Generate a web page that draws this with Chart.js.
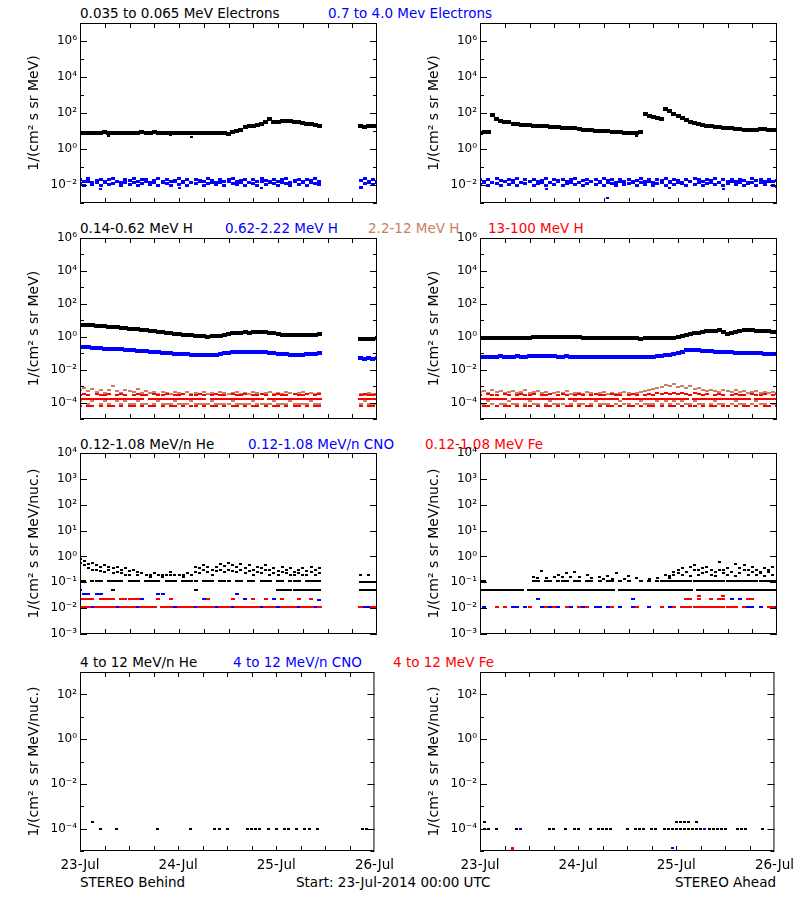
<!DOCTYPE html>
<html><head><meta charset="utf-8">
<script src="https://cdn.jsdelivr.net/npm/chart.js@4.4.0/dist/chart.umd.min.js"></script>
<style>
html,body{margin:0;padding:0;background:#fff;width:800px;height:900px;overflow:hidden;font-family:'DejaVu Sans',sans-serif;}
.t{position:absolute;font-size:13.5px;line-height:16px;white-space:nowrap;}
canvas{position:absolute;}
</style></head><body>
<span class="t" style="left:80px;top:5px;color:#000">0.035 to 0.065 MeV Electrons</span>
<span class="t" style="left:328px;top:5px;color:#0000ff">0.7 to 4.0 Mev Electrons</span>
<span class="t" style="left:80px;top:220px;color:#000">0.14-0.62 MeV H</span>
<span class="t" style="left:225px;top:220px;color:#0000ff">0.62-2.22 MeV H</span>
<span class="t" style="left:368px;top:220px;color:rgb(200,128,96)">2.2-12 MeV H</span>
<span class="t" style="left:488px;top:220px;color:#ff0000">13-100 MeV H</span>
<span class="t" style="left:80px;top:436px;color:#000">0.12-1.08 MeV/n He</span>
<span class="t" style="left:248px;top:436px;color:#0000ff">0.12-1.08 MeV/n CNO</span>
<span class="t" style="left:425px;top:436px;color:#ff0000">0.12-1.08 MeV Fe</span>
<span class="t" style="left:80px;top:654px;color:#000">4 to 12 MeV/n He</span>
<span class="t" style="left:233px;top:654px;color:#0000ff">4 to 12 MeV/n CNO</span>
<span class="t" style="left:393px;top:654px;color:#ff0000">4 to 12 MeV Fe</span>
<span class="t" style="left:80px;top:874px;color:#000">STEREO Behind</span>
<span class="t" style="left:296px;top:874px;color:#000">Start: 23-Jul-2014 00:00 UTC</span>
<span class="t" style="right:24px;top:874px;color:#000">STEREO Ahead</span>
<script>
const _ = null;
// time axis (hours since 23-Jul-2014 00:00 UTC)
const dayTicks = [0, 24, 48, 72];
const dayLabels = ['23-Jul', '24-Jul', '25-Jul', '26-Jul'];
const xTickHours = [6, 12, 18, 24, 30, 36, 42, 48, 54, 60, 66];

// ---------- Electrons, STEREO Behind (hourly) ----------
const behElec035 = [
 7.6,8.0,7.8,8.2,7.7,8.1,8.3,7.9,7.9,8.2,7.8,8.0,
 8.2,7.7,8.1,8.4,8.0,7.9,8.3,8.0,7.7,8.2,7.9,8.1,
 7.8,8.1,7.9,7.7,7.8,7.6,7.9,7.6,7.4,7.7,7.3,7.5,
 7.2,9.0,10.5,12,16,18,20,21,23,33,48,30,
 31,34,35,34,33,30,28,26,24,22,20,_,
 _,_,_,_,_,_,_,_,18,17.5,18,18.5,
 18];
const behElec035OutH = [7, 22, 27, 36];
const behElec035OutV = [5.6, 6.0, 4.9, 6.0];
const behElec07A = [
 .020,.016,.022,.014,.018,.021,.015,.019,.022,.016,.014,.020,
 .017,.022,.015,.019,.021,.014,.018,.022,.016,.020,.015,.018,
 .022,.016,.019,.014,.021,.017,.015,.022,.018,.014,.020,.016,
 .019,.022,.015,.017,.021,.014,.020,.016,.022,.018,.015,.021,
 .016,.019,.022,.014,.018,.021,.015,.020,.017,.022,.016,_,
 _,_,_,_,_,_,_,_,.018,.022,.015,.020,
 .016];
const behElec07B = [
 .012,.010,.015,.011,.013,.009,.014,.011,.012,.015,.010,.013,
 .011,.014,.009,.012,.015,.011,.013,.010,.014,.012,.009,.015,
 .011,.013,.010,.014,.012,.015,.009,.012,.014,.011,.013,.010,
 .015,.012,.011,.013,.009,.014,.012,.010,.015,.011,.013,.012,
 .010,.014,.012,.009,.015,.011,.013,.010,.014,.012,.011,_,
 _,_,_,_,_,_,_,_,.0075,.012,.014,.011,
 .013];
const behElec07OutH = [5, 24, 44];
const behElec07OutV = [.006, .007, .007];

// ---------- Electrons, STEREO Ahead (hourly) ----------
const ahdElec035 = [
 8.0,8.5,9.0,75,45,38,33,30,26,23,22,21,
 21,20,19,18.5,18,17.5,17,16,15,14.5,14.5,14,
 13,12,11.5,11,10.5,10.5,10,9.5,9,8.5,8.5,8,
 8.2,7.8,8,8.5,90,72,60,50,45,175,130,92,
 70,52,42,33,28,25,22,20,18.5,17.5,16.5,15.5,
 15,14,13,12.5,12,11.5,11,11.5,12.5,12.5,12,12,
 12];
const ahdElec035OutH = [38];
const ahdElec035OutV = [5.5];
const ahdElec07A = [
 .021,.016,.019,.014,.022,.017,.015,.020,.018,.022,.014,.019,
 .016,.021,.015,.018,.022,.014,.020,.017,.021,.015,.019,.022,
 .014,.018,.021,.016,.020,.015,.022,.017,.019,.014,.021,.016,
 .020,.015,.018,.022,.016,.019,.014,.021,.017,.022,.015,.020,
 .018,.014,.021,.016,.022,.019,.015,.020,.017,.022,.014,.019,
 .016,.021,.015,.020,.018,.014,.022,.017,.019,.015,.021,.016,
 .018];
const ahdElec07B = [
 .011,.013,.009,.014,.012,.010,.015,.011,.013,.010,.014,.012,
 .015,.010,.012,.014,.009,.013,.011,.015,.010,.012,.014,.011,
 .013,.009,.012,.015,.011,.013,.010,.014,.012,.009,.015,.011,
 .012,.014,.010,.013,.011,.015,.009,.012,.014,.010,.013,.011,
 .014,.012,.010,.015,.011,.013,.009,.012,.014,.011,.013,.010,
 .012,.015,.011,.013,.010,.012,.014,.009,.013,.011,.015,.010,
 .008];
const ahdElec07OutH = [16, 31, 46, 59];
const ahdElec07OutV = [.006, .0018, .0065, .006];

// ---------- Protons, STEREO Behind ----------
const behH014 = [
 5.5,5.3,5.1,4.9,4.7,4.5,4.3,4.1,3.9,3.7,3.5,3.3,
 3.1,2.9,2.8,2.7,2.5,2.3,2.2,2.0,1.9,1.8,1.7,1.55,
 1.45,1.35,1.3,1.2,1.15,1.05,1.05,1.0,1.05,1.05,1.1,1.2,
 1.4,1.6,1.75,1.8,1.85,1.8,1.9,1.85,1.95,1.9,1.8,1.7,
 1.4,1.3,1.25,1.2,1.25,1.2,1.25,1.3,1.3,1.35,1.4,_,
 _,_,_,_,_,_,_,_,0.72,0.7,0.75,0.72,
 0.8];
const behH062 = [
 .25,.24,.23,.22,.21,.20,.19,.185,.18,.175,.17,.16,
 .155,.15,.14,.135,.13,.125,.12,.115,.11,.105,.10,.095,
 .09,.088,.085,.08,.078,.077,.076,.078,.08,.082,.09,.10,
 .11,.115,.12,.118,.12,.122,.12,.118,.12,.115,.11,.10,
 .09,.088,.085,.082,.08,.078,.08,.085,.09,.095,.10,_,
 _,_,_,_,_,_,_,_,.048,.046,.05,.047,
 .05];
const behH22A = [
 6e-4,8e-4,5e-4,7e-4,4.5e-4,6e-4,4e-4,5.5e-4,1e-3,5e-4,4e-4,6e-4,
 5e-4,4.5e-4,6.5e-4,4e-4,5e-4,4e-4,4.5e-4,3.5e-4,4.5e-4,4e-4,3.5e-4,4.5e-4,
 4e-4,3.5e-4,4.5e-4,3.5e-4,4e-4,3.5e-4,4.5e-4,3.5e-4,4e-4,3.5e-4,4.5e-4,4e-4,
 3.5e-4,4e-4,4.5e-4,3.5e-4,4e-4,3.5e-4,4.5e-4,4e-4,3.5e-4,4e-4,4.5e-4,3.5e-4,
 4e-4,3.5e-4,4.5e-4,4e-4,3.5e-4,4e-4,4.5e-4,3.5e-4,4e-4,3.5e-4,4e-4,_,
 _,_,_,_,_,_,_,_,3.5e-4,3e-4,4e-4,3.5e-4,
 3e-4];
const behH22B = [
 1.3e-4,_,8e-5,1.3e-4,_,8e-5,1.3e-4,8e-5,_,1.3e-4,8e-5,1.3e-4,
 8e-5,8e-5,1.3e-4,8e-5,8e-5,_,8e-5,1.3e-4,8e-5,8e-5,8e-5,1.3e-4,
 8e-5,8e-5,8e-5,1.3e-4,8e-5,8e-5,8e-5,8e-5,1.3e-4,8e-5,8e-5,8e-5,
 8e-5,1.3e-4,8e-5,8e-5,8e-5,8e-5,1.3e-4,8e-5,8e-5,8e-5,8e-5,1.3e-4,
 8e-5,8e-5,8e-5,1.3e-4,8e-5,8e-5,8e-5,8e-5,1.3e-4,8e-5,8e-5,_,
 _,_,_,_,_,_,_,_,8e-5,1.3e-4,8e-5,8e-5,
 8e-5];
const behH13A = [
 2.8e-4,3.2e-4,2.8e-4,_,3.2e-4,2.8e-4,2.8e-4,3.2e-4,_,2.8e-4,3.2e-4,2.8e-4,
 _,2.8e-4,3.2e-4,2.8e-4,2.8e-4,_,3.2e-4,2.8e-4,2.8e-4,3.2e-4,_,2.8e-4,
 2.8e-4,3.2e-4,_,2.8e-4,2.8e-4,3.2e-4,2.8e-4,_,2.8e-4,3.2e-4,2.8e-4,2.8e-4,
 _,3.2e-4,2.8e-4,2.8e-4,3.2e-4,_,2.8e-4,2.8e-4,3.2e-4,2.8e-4,_,2.8e-4,
 3.2e-4,2.8e-4,2.8e-4,_,3.2e-4,2.8e-4,2.8e-4,3.2e-4,_,2.8e-4,3.2e-4,_,
 _,_,_,_,_,_,_,_,2.8e-4,3.2e-4,2.8e-4,2.8e-4,
 3.2e-4];
const behH13B = [
 1.7e-4,1.7e-4,1.7e-4,1.7e-4,1.7e-4,1.7e-4,1.7e-4,1.7e-4,1.7e-4,1.7e-4,1.7e-4,1.7e-4,
 1.7e-4,1.7e-4,1.7e-4,1.7e-4,_,1.7e-4,1.7e-4,1.7e-4,1.7e-4,1.7e-4,1.7e-4,1.7e-4,
 1.7e-4,1.7e-4,1.7e-4,1.7e-4,1.7e-4,1.7e-4,1.7e-4,_,1.7e-4,1.7e-4,1.7e-4,1.7e-4,
 1.7e-4,1.7e-4,1.7e-4,1.7e-4,1.7e-4,1.7e-4,1.7e-4,1.7e-4,1.7e-4,_,1.7e-4,1.7e-4,
 1.7e-4,1.7e-4,1.7e-4,1.7e-4,1.7e-4,1.7e-4,1.7e-4,1.7e-4,1.7e-4,1.7e-4,1.7e-4,_,
 _,_,_,_,_,_,_,_,1.7e-4,1.7e-4,1.7e-4,1.7e-4,
 1.7e-4];
const behH13C = [
 6e-5,_,6e-5,6e-5,_,6e-5,_,6e-5,6e-5,_,6e-5,_,
 6e-5,6e-5,_,6e-5,_,6e-5,6e-5,_,6e-5,_,6e-5,6e-5,
 _,6e-5,_,6e-5,6e-5,_,6e-5,_,6e-5,6e-5,_,6e-5,
 _,6e-5,6e-5,_,6e-5,_,6e-5,6e-5,_,6e-5,_,6e-5,
 6e-5,_,6e-5,_,6e-5,6e-5,_,6e-5,_,6e-5,6e-5,_,
 _,_,_,_,_,_,_,_,6e-5,_,6e-5,6e-5,
 _];

// ---------- Protons, STEREO Ahead ----------
const ahdH014 = [
 .82,.8,.83,.8,.82,.85,.83,.8,.82,.84,.85,.86,
 .88,.9,.92,.95,.98,1.0,1.02,1.0,.98,.97,.95,.92,
 .9,.88,.86,.85,.84,.82,.83,.81,.8,.82,.8,.81,
 .8,.79,.8,.78,.8,.82,.8,.83,.82,.84,.83,.85,
 .95,1.1,1.3,1.5,1.65,1.75,1.9,2.1,2.2,2.35,2.4,2.0,
 1.5,1.7,2.0,2.3,2.4,2.45,2.4,2.35,2.3,2.2,2.1,1.95,
 1.9];
const ahdH062 = [
 .06,.055,.062,.058,.06,.064,.06,.058,.062,.065,.062,.06,
 .063,.066,.065,.068,.066,.064,.065,.062,.06,.063,.06,.058,
 .06,.058,.057,.06,.056,.058,.055,.057,.056,.058,.055,.057,
 .056,.058,.055,.057,.058,.06,.062,.065,.07,.075,.08,.09,
 .1,.12,.15,.16,.155,.15,.14,.135,.13,.125,.12,.12,
 .12,.115,.11,.11,.105,.105,.1,.1,.098,.095,.092,.09,
 .09];
const ahdH22A = [
 4.5e-4,5e-4,4e-4,6e-4,4.5e-4,5e-4,4e-4,4.5e-4,5e-4,4e-4,4.5e-4,5.5e-4,
 4e-4,4.5e-4,5e-4,4e-4,4.5e-4,3.5e-4,4e-4,4.5e-4,4e-4,5e-4,3.5e-4,4e-4,
 4e-4,3.5e-4,4.5e-4,4e-4,3.5e-4,4e-4,4.5e-4,3.5e-4,4e-4,3.5e-4,4e-4,4.5e-4,
 4e-4,3.5e-4,4e-4,4.5e-4,5e-4,6e-4,7e-4,8e-4,9e-4,1.1e-3,1e-3,1.3e-3,
 9e-4,1e-3,8e-4,1e-3,7e-4,8e-4,6e-4,5e-4,6e-4,5e-4,4.5e-4,5.5e-4,
 5e-4,4.5e-4,6e-4,4.5e-4,5e-4,4e-4,4.5e-4,5e-4,4e-4,4.5e-4,4e-4,4.5e-4,
 4e-4];
const ahdH22B = [
 8e-5,8e-5,1.3e-4,8e-5,_,8e-5,8e-5,1.3e-4,8e-5,8e-5,_,8e-5,
 1.3e-4,8e-5,8e-5,_,8e-5,1.3e-4,8e-5,8e-5,8e-5,_,8e-5,1.3e-4,
 8e-5,8e-5,_,8e-5,1.3e-4,8e-5,8e-5,8e-5,_,8e-5,1.3e-4,8e-5,
 8e-5,_,8e-5,1.3e-4,8e-5,8e-5,8e-5,1.3e-4,8e-5,1.3e-4,8e-5,1.3e-4,
 8e-5,1.3e-4,8e-5,8e-5,1.3e-4,8e-5,8e-5,_,8e-5,1.3e-4,8e-5,8e-5,
 _,8e-5,1.3e-4,8e-5,8e-5,_,8e-5,1.3e-4,8e-5,8e-5,_,8e-5,
 8e-5];
const ahdH13A = [
 2.8e-4,_,3.2e-4,2.8e-4,2.8e-4,_,3.2e-4,2.8e-4,_,2.8e-4,3.2e-4,2.8e-4,
 2.8e-4,3.2e-4,_,2.8e-4,2.8e-4,3.2e-4,_,2.8e-4,3.2e-4,2.8e-4,_,2.8e-4,
 3.2e-4,2.8e-4,_,2.8e-4,3.2e-4,2.8e-4,2.8e-4,_,3.2e-4,2.8e-4,2.8e-4,_,
 2.8e-4,3.2e-4,2.8e-4,_,2.8e-4,3.2e-4,2.8e-4,4e-4,3.2e-4,4e-4,3.2e-4,4e-4,
 3.2e-4,4e-4,3.2e-4,2.8e-4,4e-4,3.2e-4,2.8e-4,3.2e-4,_,2.8e-4,3.2e-4,2.8e-4,
 _,2.8e-4,3.2e-4,2.8e-4,2.8e-4,_,3.2e-4,2.8e-4,2.8e-4,3.2e-4,_,2.8e-4,
 3.2e-4];
const ahdH13B = [
 1.7e-4,1.7e-4,1.7e-4,1.7e-4,1.7e-4,1.7e-4,1.7e-4,_,1.7e-4,1.7e-4,1.7e-4,1.7e-4,
 1.7e-4,1.7e-4,1.7e-4,1.7e-4,1.7e-4,1.7e-4,1.7e-4,1.7e-4,1.7e-4,_,1.7e-4,1.7e-4,
 1.7e-4,1.7e-4,1.7e-4,1.7e-4,1.7e-4,1.7e-4,1.7e-4,1.7e-4,1.7e-4,1.7e-4,_,1.7e-4,
 1.7e-4,1.7e-4,1.7e-4,1.7e-4,1.7e-4,1.7e-4,1.7e-4,1.7e-4,1.7e-4,1.7e-4,1.7e-4,1.7e-4,
 1.7e-4,1.7e-4,1.7e-4,_,1.7e-4,1.7e-4,1.7e-4,1.7e-4,1.7e-4,1.7e-4,1.7e-4,1.7e-4,
 1.7e-4,1.7e-4,1.7e-4,1.7e-4,1.7e-4,1.7e-4,_,1.7e-4,1.7e-4,1.7e-4,1.7e-4,1.7e-4,
 1.7e-4];
const ahdH13C = [
 _,6e-5,6e-5,_,6e-5,_,6e-5,6e-5,_,6e-5,_,6e-5,
 6e-5,_,6e-5,_,6e-5,6e-5,_,6e-5,_,6e-5,6e-5,_,
 6e-5,_,6e-5,6e-5,_,6e-5,_,6e-5,6e-5,_,6e-5,_,
 6e-5,6e-5,_,6e-5,_,6e-5,6e-5,_,6e-5,_,6e-5,6e-5,
 _,6e-5,_,6e-5,6e-5,_,6e-5,_,6e-5,6e-5,_,6e-5,
 6e-5,_,6e-5,_,6e-5,6e-5,_,6e-5,_,6e-5,6e-5,_,
 6e-5];

// ---------- 0.12-1.08 MeV/n heavy ions, Behind ----------
const behHeA = [
 .8,.65,.5,.55,.45,.4,.45,.38,.35,.4,.3,.35,
 .28,.3,.25,.22,.19,.2,.22,.19,.2,.19,.25,.19,
 .2,.19,.22,.19,.4,.35,.45,.38,.3,.4,.5,.42,
 .55,.45,.4,.5,.35,.45,.3,.4,.35,.45,.3,.35,
 .28,.4,.3,.35,.25,.3,.35,.28,.4,.3,.35,_,
 _,_,_,_,_,_,_,_,.19,_,.19,_,
 .19];
const behHeA2 = [
 .55,.45,.35,.3,.3,.28,.25,.3,.22,.25,.22,.2,
 .2,_,.19,_,_,.16,_,_,.16,_,.19,_,
 _,.16,_,_,.25,.22,.3,.25,.2,.28,.3,.25,
 .3,.28,.25,.3,.22,.28,.2,.25,.22,.3,.2,.22,
 .2,.25,.22,.2,.19,.22,.2,.19,.25,.2,.22,_,
 _,_,_,_,_,_,_,_,_,_,_,_,
 _];
const behHeB = [
 .11,.11,_,.11,.11,.11,_,.11,.11,.11,.11,_,
 .11,.11,.11,_,.11,.11,.11,.11,_,.11,.11,.11,
 _,.11,.11,.11,.11,_,.11,.11,.11,_,.11,.11,
 .11,_,.11,.11,_,.11,.11,_,.11,.11,.11,_,
 .11,.11,_,.11,.11,.11,_,.11,.11,.11,.11,_,
 _,_,_,_,_,_,_,_,.1,.1,.1,.1,
 .1];
const behHeCH = [8, 28, 48, 49, 50, 51, 52, 53, 54, 55, 56, 57, 58, 68, 69, 70, 71, 72];
const behHeCV = [.051,.051,.051,.051,.051,.051,.051,.051,.051,.051,.051,.051,.051,.051,.051,.051,.051,.051];
const behCNOH = [0, 1, 2, 3, 4, 5, 9, 14, 15, 19, 20, 22, 23, 28, 30, 33, 37, 38, 40, 44, 47, 48, 53, 57, 58, 69, 70];
const behCNOV = [.05,.036,.036,.0107,.036,.036,.0107,.0107,.023,.036,.036,.023,.0107,.0107,.023,.0107,.0107,.036,.023,.0107,.023,.0107,.0107,.0107,.02,.0107,.0107];
const behFeLow = [
 .0107,.0107,.0107,_,.0107,.0107,.0107,.0107,.0107,_,.0107,.0107,
 .0107,.0107,_,.0107,.0107,.0107,.0107,_,.0107,.0107,.0107,_,
 .0107,.0107,.0107,.0107,_,.0107,.0107,.0107,.0107,_,.0107,.0107,
 .0107,_,.0107,.0107,.0107,.0107,.0107,.0107,_,.0107,.0107,.0107,
 _,.0107,.0107,.0107,.0107,_,.0107,.0107,.0107,_,.0107,_,
 _,_,_,_,_,_,_,_,.0107,_,_,.0107,
 .0107];
const behFeHighH = [0, 1, 2, 3, 5, 6, 7, 8, 10, 11, 12, 13, 14, 19, 22, 31, 37, 42, 45, 49, 53, 56];
const behFeHighV = [.023,.023,.023,.023,.023,.023,.023,.023,.023,.023,.023,.023,.023,.023,.023,.023,.023,.023,.023,.023,.023,.023];

// ---------- 0.12-1.08 MeV/n heavy ions, Ahead ----------
const ahdHeA = [
 _,_,_,_,_,_,_,_,_,_,_,_,
 _,.16,.15,.27,.15,_,.16,.2,.16,.22,.16,.25,
 .16,_,.2,.15,_,.16,.13,.17,.14,.22,_,.14,
 .17,_,.15,_,_,.14,_,.15,_,.2,.15,.25,
 .3,.35,.25,.4,.45,.3,.35,.4,.3,.25,.6,.3,
 .35,.25,.5,.35,.45,.3,.4,.3,.25,.35,.3,.4,
 .25];
const ahdHeA2 = [
 _,_,_,_,_,_,_,_,_,_,_,_,
 _,_,_,_,_,_,_,_,_,_,_,_,
 _,_,_,_,_,_,_,_,_,_,_,_,
 _,_,_,_,_,_,_,_,_,.2,.18,.2,
 .22,.2,.25,.18,.3,.2,.22,.25,.2,.18,.3,.22,
 .2,.25,.18,.22,.3,.2,.25,.2,.22,.18,.25,.2,
 .2];
const ahdHeB = [
 .11,.11,_,_,_,_,_,_,_,_,_,_,
 _,.11,.11,_,.11,.11,_,.11,.11,.11,_,.11,
 .11,_,.11,.11,_,.11,_,.11,.11,_,.11,_,
 .11,_,_,.11,_,.11,_,.11,.11,.11,.11,.11,
 .11,.11,.11,.11,.11,.11,.11,.11,.11,.11,.11,.11,
 .11,.11,.11,.11,.11,.11,.11,.11,.11,.11,.11,.11,
 .11];
const ahdHeC = [
 .051,.051,.051,.051,.051,.051,.051,.051,.051,.051,.051,_,
 .051,.051,.051,.051,.051,.051,.051,.051,.051,.051,.051,.051,
 .051,.051,.051,.051,.051,.051,.051,.051,.051,_,.051,.051,
 .051,.051,.051,.051,.051,.051,.051,.051,.051,.051,.051,.051,
 .051,.051,.051,.051,_,.051,.051,.051,.051,.051,.051,.051,
 .051,.051,.051,.051,.051,.051,.051,.051,.051,.051,.051,.051,
 .051];
const ahdCNOH = [1, 8, 9, 11, 14, 15, 17, 19, 22, 25, 28, 29, 31, 34, 37, 37, 41, 46, 61, 63, 65, 66, 68, 72];
const ahdCNOV = [.0107,.0107,.0107,.0107,.023,.0107,.0107,.0107,.0107,.0107,.0107,.0107,.0107,.0107,.0107,.023,.0107,.0107,.023,.023,.0107,.0107,.0107,.0107];
const ahdFeH = [4, 6, 12, 16, 18, 21, 24, 26, 32, 38, 44, 47, 49, 50, 51, 52, 53, 54, 55, 56, 57, 58, 59, 60, 61, 62, 64, 70, 71, 50, 51, 53, 56, 58, 59, 65, 66, 53, 59];
const ahdFeV = [.0107,.0107,.0107,.0107,.0107,.0107,.0107,.0107,.0107,.0107,.0107,.0107,.0107,.0107,.0107,.0107,.0107,.0107,.0107,.0107,.0107,.0107,.0107,.0107,.0107,.0107,.0107,.0107,.0107,.023,.023,.023,.023,.023,.023,.023,.023,.03,.03];

// ---------- 4-12 MeV/n heavy ions ----------
const beh4HeH = [3, 5, 9, 19, 27, 33, 34, 36, 41, 42, 43, 44, 46, 48, 50, 51, 53, 55, 56, 58, 69, 70];
const beh4HeV = [2e-4,1e-4,1e-4,1e-4,1e-4,1e-4,1e-4,1e-4,1e-4,1e-4,1e-4,1e-4,1e-4,1e-4,1e-4,1e-4,1e-4,1e-4,1e-4,1e-4,1e-4,1e-4];
const ahd4HeH = [1, 2, 4, 9, 17, 18, 21, 23, 24, 27, 29, 30, 31, 32, 36, 38, 39, 40, 42, 43, 45, 46, 47, 48, 49, 50, 51, 52, 53, 54, 55, 56, 57, 58, 59, 60, 63, 64, 65, 69, 1, 48, 49, 50, 51, 53];
const ahd4HeV = [1e-4,1e-4,1e-4,1e-4,1e-4,1e-4,1e-4,1e-4,1e-4,1e-4,1e-4,1e-4,1e-4,1e-4,1e-4,1e-4,1e-4,1e-4,1e-4,1e-4,1e-4,1e-4,1e-4,1e-4,1e-4,1e-4,1e-4,1e-4,1e-4,1e-4,1e-4,1e-4,1e-4,1e-4,1e-4,1e-4,1e-4,1e-4,1e-4,1e-4,2e-4,2e-4,2e-4,2e-4,2e-4,2e-4];
const ahd4CNOH = [10, 47, 55];
const ahd4CNOV = [1e-4, 1.3e-5, 1e-4];
const ahd4FeH = [8];
const ahd4FeV = [1.3e-5];

// ---------- rendering ----------
const BLACK = '#000000', BLUE = '#0000ff', RED = '#ff0000', TAN = 'rgb(200,128,96)';
const rows = [
  {top: 23,  bottom: 203, range: [-3, 7], every: 2, ytitle: '1/(cm² s sr MeV)'},
  {top: 238, bottom: 419, range: [-5, 6], every: 2, ytitle: '1/(cm² s sr MeV)'},
  {top: 453, bottom: 634, range: [-3, 4], every: 1, ytitle: '1/(cm² s sr MeV/nuc.)'},
  {top: 672, bottom: 851, range: [-5, 3], every: 2, ytitle: '1/(cm² s sr MeV/nuc.)'}
];
const SUP = {'0':'⁰','1':'¹','2':'²','3':'³','4':'⁴','5':'⁵','6':'⁶','7':'⁷','8':'⁸','9':'⁹','-':'⁻'};
const sup = n => String(n).split('').map(c => SUP[c]).join('');
function dot(color, w, h) {
  const c = document.createElement('canvas'); c.width = w; c.height = h;
  const g = c.getContext('2d'); g.fillStyle = color; g.fillRect(0, 0, w, h); return c;
}
const seq = arr => { const o = []; arr.forEach((v, i) => { if (v !== null) o.push({x: i, y: v}); }); return o; };
const pairs = (hs, vs) => hs.map((h, i) => ({x: h, y: vs[i]}));
function ds(label, data, color, w, h, order) {
  return {label, data, pointStyle: dot(color, w, h), pointRadius: 2, pointHoverRadius: 2,
    backgroundColor: color, borderColor: color, borderWidth: 0, showLine: false, order};
}
const boxTicks = {
  id: 'boxTicks',
  afterDatasetsDraw(chart) {
    const r = rows[chart.options.plugins.boxTicks.row];
    const {ctx, chartArea: a, scales: {x, y}} = chart;
    ctx.save(); ctx.strokeStyle = '#000'; ctx.lineWidth = 1; ctx.beginPath();
    ctx.rect(a.left + 0.5, a.top + 0.5, a.right - a.left - 1, a.bottom - a.top - 1);
    for (let e = r.range[0]; e <= r.range[1]; e++) {
      const py = Math.round(y.getPixelForValue(Math.pow(10, e))) + 0.5;
      const len = (e % r.every === 0) ? 7 : 4;
      ctx.moveTo(a.left, py); ctx.lineTo(a.left + len, py);
      ctx.moveTo(a.right, py); ctx.lineTo(a.right - len, py);
    }
    xTickHours.forEach(hh => {
      const px = Math.round(x.getPixelForValue(hh)) + 0.5;
      ctx.moveTo(px, a.bottom); ctx.lineTo(px, a.bottom - 5);
      ctx.moveTo(px, a.top); ctx.lineTo(px, a.top + 5);
    });
    ctx.stroke(); ctx.restore();
  }
};
const PADT = 12;
function makePanel(row, col, datasets) {
  const r = rows[row], last = row === 3;
  const XH = 30;
  const cv = document.createElement('canvas');
  const H = PADT + (r.bottom - r.top) + (last ? XH : 12);
  cv.width = 400; cv.height = H;
  cv.style.left = (col * 400) + 'px'; cv.style.top = (r.top - PADT) + 'px';
  cv.style.width = '400px'; cv.style.height = H + 'px';
  document.body.appendChild(cv);
  const exps = []; for (let e = r.range[0]; e <= r.range[1]; e++) exps.push(e);
  const xScale = {type: 'linear', min: 0, max: 72, display: last,
    grid: {display: false, drawTicks: false}, border: {display: false},
    afterBuildTicks: s => { s.ticks = dayTicks.map(v => ({value: v})); },
    ticks: {autoSkip: false, maxRotation: 0, padding: 6, color: '#000',
      font: {family: 'DejaVu Sans', size: 13.5},
      callback: v => { const i = dayTicks.indexOf(v); return i >= 0 ? dayLabels[i] : ''; }}};
  if (last) xScale.afterFit = s => { s.height = XH; };
  new Chart(cv, {
    type: 'scatter',
    data: {datasets},
    options: {
      responsive: false, animation: false, devicePixelRatio: 1,
      layout: {padding: {left: 0, right: 23, top: PADT, bottom: last ? 0 : 12}},
      plugins: {legend: {display: false}, tooltip: {enabled: false}, boxTicks: {row}},
      scales: {
        x: xScale,
        y: {type: 'logarithmic', min: Math.pow(10, r.range[0]), max: Math.pow(10, r.range[1]),
          grid: {display: false, drawTicks: false}, border: {display: false},
          afterBuildTicks: s => { s.ticks = exps.map(e => ({value: Math.pow(10, e)})); },
          ticks: {autoSkip: false, padding: 3, color: '#000', font: {family: 'DejaVu Sans', size: 12},
            callback: v => { const e = Math.round(Math.log10(v)); return (e % r.every === 0) ? '10' + sup(e) : ''; }},
          title: {display: true, text: r.ytitle, color: '#000', font: {family: 'DejaVu Sans', size: 14},
            padding: {top: 26, bottom: 0}},
          afterFit: s => { s.width = 80; }}
      }
    },
    plugins: [boxTicks]
  });
}

makePanel(0, 0, [
  ds('0.035 to 0.065 MeV Electrons', seq(behElec035), BLACK, 5, 4, 4),
  ds('0.035 to 0.065 MeV Electrons', pairs(behElec035OutH, behElec035OutV), BLACK, 3, 2, 4),
  ds('0.7 to 4.0 Mev Electrons', seq(behElec07A), BLUE, 4, 3, 3),
  ds('0.7 to 4.0 Mev Electrons', seq(behElec07B), BLUE, 4, 3, 3),
  ds('0.7 to 4.0 Mev Electrons', pairs(behElec07OutH, behElec07OutV), BLUE, 3, 2, 3)
]);
makePanel(0, 1, [
  ds('0.035 to 0.065 MeV Electrons', seq(ahdElec035), BLACK, 5, 4, 4),
  ds('0.035 to 0.065 MeV Electrons', pairs(ahdElec035OutH, ahdElec035OutV), BLACK, 3, 2, 4),
  ds('0.7 to 4.0 Mev Electrons', seq(ahdElec07A), BLUE, 4, 3, 3),
  ds('0.7 to 4.0 Mev Electrons', seq(ahdElec07B), BLUE, 4, 3, 3),
  ds('0.7 to 4.0 Mev Electrons', pairs(ahdElec07OutH, ahdElec07OutV), BLUE, 3, 2, 3)
]);
makePanel(1, 0, [
  ds('0.14-0.62 MeV H', seq(behH014), BLACK, 5, 4, 4),
  ds('0.62-2.22 MeV H', seq(behH062), BLUE, 5, 4, 3),
  ds('2.2-12 MeV H', seq(behH22A), TAN, 4, 2, 2),
  ds('2.2-12 MeV H', seq(behH22B), TAN, 4, 2, 2),
  ds('13-100 MeV H', seq(behH13A), RED, 4, 2, 1),
  ds('13-100 MeV H', seq(behH13B), RED, 5, 2, 1),
  ds('13-100 MeV H', seq(behH13C), RED, 4, 2, 1)
]);
makePanel(1, 1, [
  ds('0.14-0.62 MeV H', seq(ahdH014), BLACK, 5, 4, 4),
  ds('0.62-2.22 MeV H', seq(ahdH062), BLUE, 5, 4, 3),
  ds('2.2-12 MeV H', seq(ahdH22A), TAN, 4, 2, 2),
  ds('2.2-12 MeV H', seq(ahdH22B), TAN, 4, 2, 2),
  ds('13-100 MeV H', seq(ahdH13A), RED, 4, 2, 1),
  ds('13-100 MeV H', seq(ahdH13B), RED, 5, 2, 1),
  ds('13-100 MeV H', seq(ahdH13C), RED, 4, 2, 1)
]);
makePanel(2, 0, [
  ds('0.12-1.08 MeV/n He', seq(behHeA), BLACK, 3, 2, 4),
  ds('0.12-1.08 MeV/n He', seq(behHeA2), BLACK, 3, 2, 4),
  ds('0.12-1.08 MeV/n He', seq(behHeB), BLACK, 4, 2, 4),
  ds('0.12-1.08 MeV/n He', pairs(behHeCH, behHeCV), BLACK, 4, 2, 4),
  ds('0.12-1.08 MeV/n CNO', pairs(behCNOH, behCNOV), BLUE, 4, 2, 3),
  ds('0.12-1.08 MeV Fe', seq(behFeLow), RED, 5, 2, 1),
  ds('0.12-1.08 MeV Fe', pairs(behFeHighH, behFeHighV), RED, 4, 2, 1)
]);
makePanel(2, 1, [
  ds('0.12-1.08 MeV/n He', seq(ahdHeA), BLACK, 3, 2, 4),
  ds('0.12-1.08 MeV/n He', seq(ahdHeA2), BLACK, 3, 2, 4),
  ds('0.12-1.08 MeV/n He', seq(ahdHeB), BLACK, 4, 2, 4),
  ds('0.12-1.08 MeV/n He', seq(ahdHeC), BLACK, 5, 2, 4),
  ds('0.12-1.08 MeV/n CNO', pairs(ahdCNOH, ahdCNOV), BLUE, 4, 2, 3),
  ds('0.12-1.08 MeV Fe', pairs(ahdFeH, ahdFeV), RED, 4, 2, 1)
]);
makePanel(3, 0, [
  ds('4 to 12 MeV/n He', pairs(beh4HeH, beh4HeV), BLACK, 3, 2, 4)
]);
makePanel(3, 1, [
  ds('4 to 12 MeV/n He', pairs(ahd4HeH, ahd4HeV), BLACK, 3, 2, 4),
  ds('4 to 12 MeV/n CNO', pairs(ahd4CNOH, ahd4CNOV), BLUE, 3, 2, 3),
  ds('4 to 12 MeV Fe', pairs(ahd4FeH, ahd4FeV), RED, 3, 3, 1)
]);
</script>
</body></html>
